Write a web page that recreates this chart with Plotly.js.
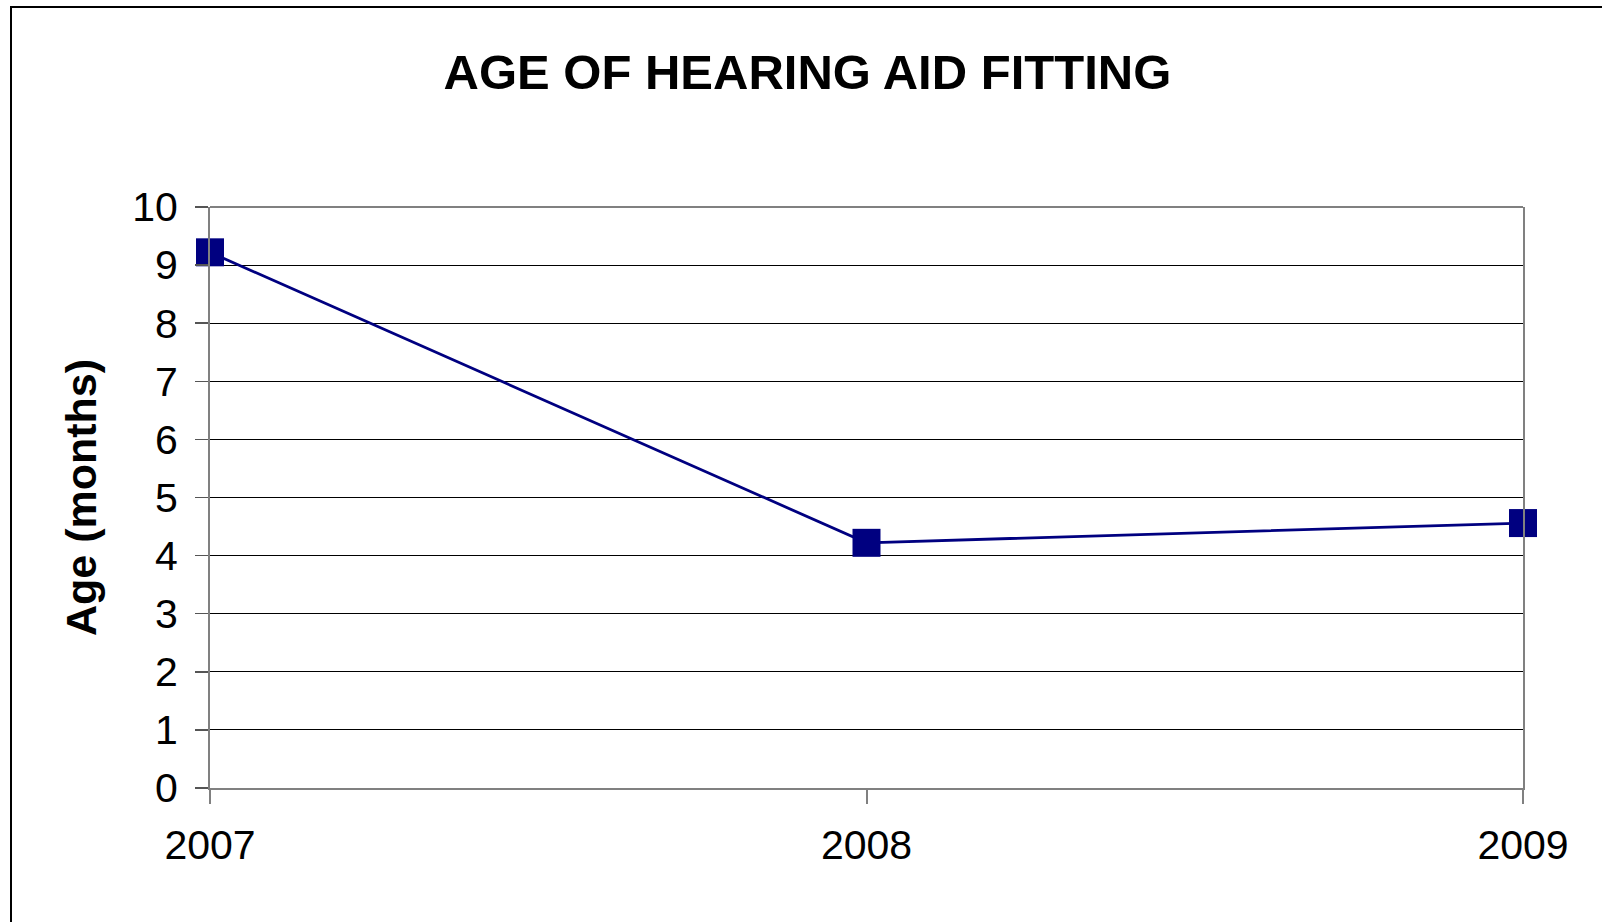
<!DOCTYPE html>
<html>
<head>
<meta charset="utf-8">
<script src="https://cdn.plot.ly/plotly-3.0.1.min.js"></script>
<style>
  html, body { margin: 0; padding: 0; background: #fff; }
  #wrap { position: relative; width: 1602px; height: 922px; }
  #chart { position: absolute; left: 0; top: 0; width: 1602px; height: 922px; }
  #frame { position: absolute; left: 10px; top: 6px; right: 0; bottom: 0;
           border-left: 2px solid #000; border-top: 2px solid #000; pointer-events: none; }
</style>
</head>
<body>
<div id="wrap">
  <div id="chart"></div>
  <div id="frame"></div>
</div>
<script>
const years = [2007, 2008, 2009];
const ageMonths = [9.22, 4.22, 4.56];
const yearLabels = ['2007', '2008', '2009'];
const yTicks = [0, 1, 2, 3, 4, 5, 6, 7, 8, 9, 10];

const FONT = 'Liberation Sans, Arial, sans-serif';
const NAVY = '#000080';

const trace = {
  x: years,
  y: ageMonths,
  type: 'scatter',
  mode: 'lines+markers',
  line: { color: NAVY, width: 2.8 },
  marker: { symbol: 'square', size: 28, color: NAVY, line: { width: 0 } },
  cliponaxis: false,
  showlegend: false,
  hoverinfo: 'x+y'
};

const layout = {
  width: 1602,
  height: 922,
  margin: { l: 210, r: 79, t: 207, b: 134 },
  paper_bgcolor: '#fff',
  plot_bgcolor: '#fff',
  font: { family: FONT, color: '#000' },
  title: {
    text: '<b>AGE OF HEARING AID FITTING</b>',
    font: { family: FONT, size: 49, color: '#000' },
    xref: 'container', x: 0.504, xanchor: 'center',
    yref: 'container', y: 1 - 72 / 922, yanchor: 'middle'
  },
  xaxis: {
    range: [2007, 2009],
    tickvals: years,
    ticktext: yearLabels,
    tickfont: { family: FONT, size: 41, color: '#000' },
    showgrid: false,
    zeroline: false,
    showline: true,
    linecolor: '#808080',
    linewidth: 2,
    ticks: 'outside',
    ticklen: 14,
    tickwidth: 2,
    tickcolor: '#808080',
    ticklabelstandoff: 6,
    mirror: false
  },
  yaxis: {
    range: [0, 10],
    tickvals: yTicks,
    tickfont: { family: FONT, size: 41, color: '#000' },
    showgrid: true,
    gridcolor: '#000',
    gridwidth: 1,
    zeroline: false,
    showline: true,
    linecolor: '#808080',
    linewidth: 2,
    mirror: true,
    ticks: 'outside',
    ticklen: 13,
    tickwidth: 1.5,
    tickcolor: '#555',
    ticklabelstandoff: 9,
    title: {
      text: '<b>Age (months)</b>',
      font: { family: FONT, size: 43, color: '#000' },
      standoff: 22
    }
  },
  shapes: [
    { type: 'line', xref: 'paper', yref: 'paper', x0: 0, x1: 1, y0: 1, y1: 1,
      line: { color: '#808080', width: 2 } }
  ]
};

Plotly.newPlot('chart', [trace], layout, { displayModeBar: false, staticPlot: true });
</script>
</body>
</html>
